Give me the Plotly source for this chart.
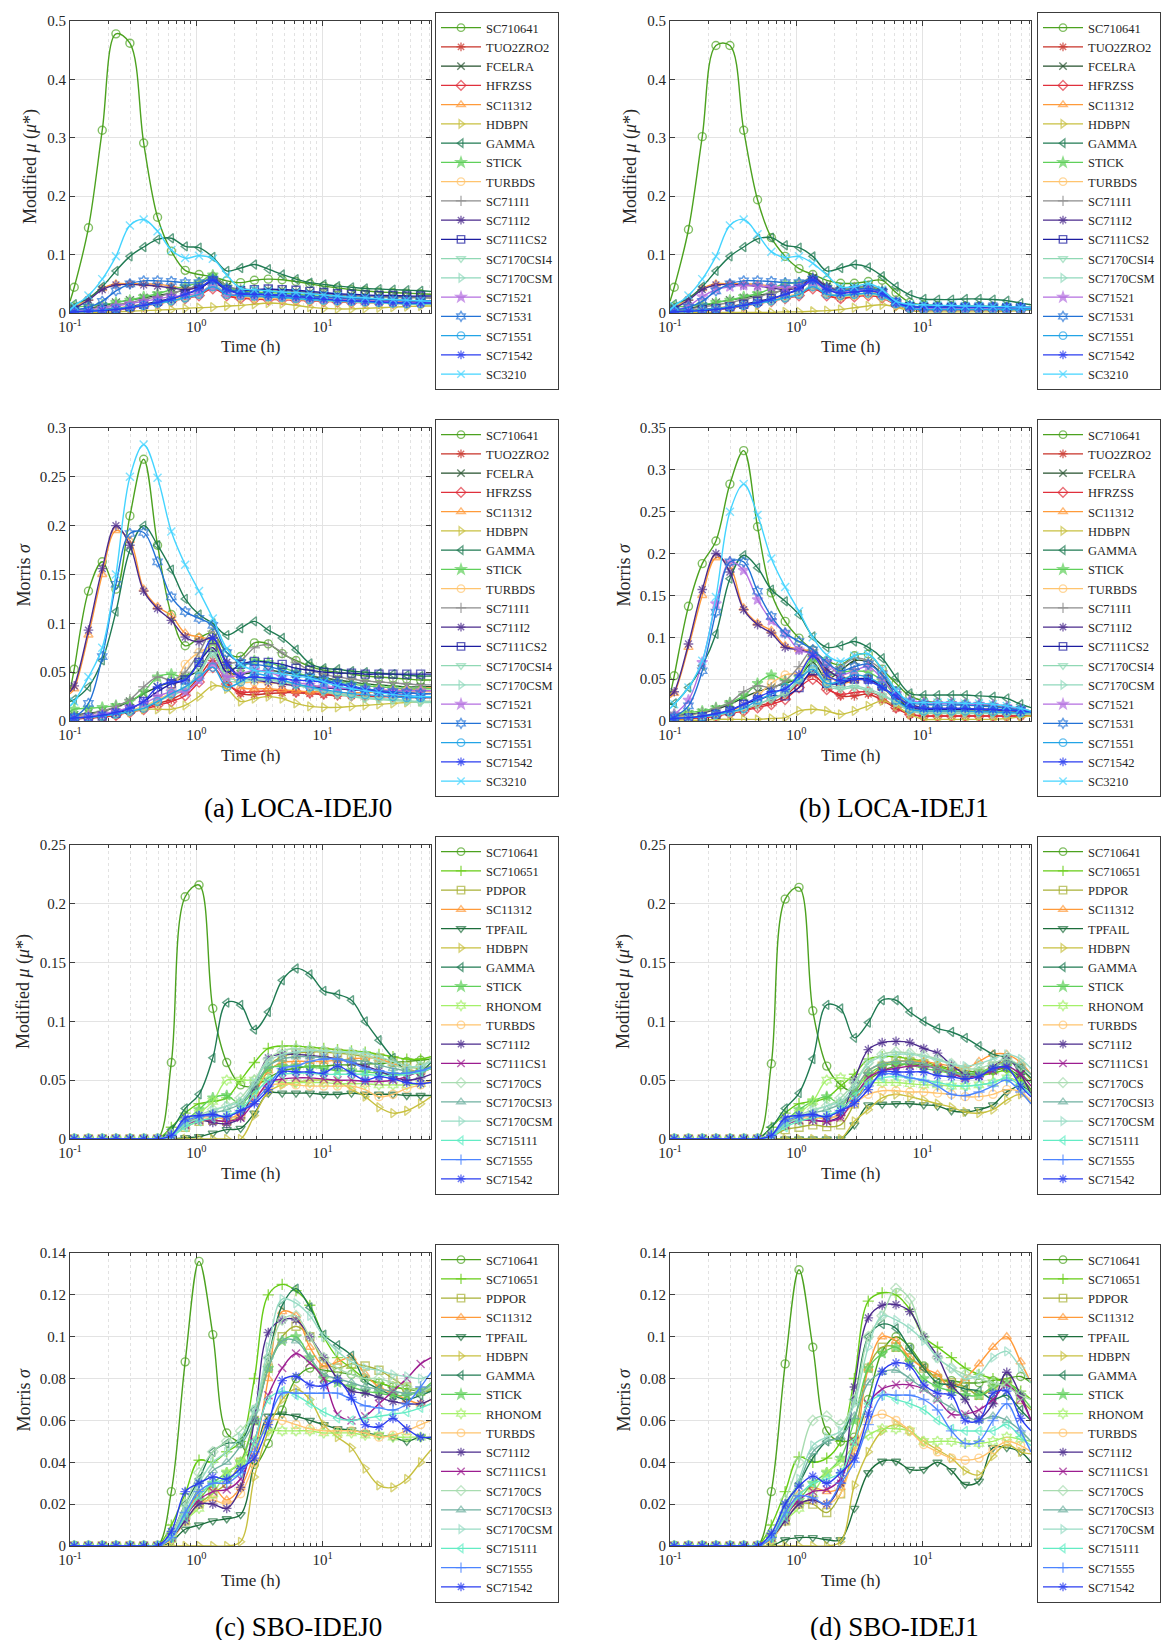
import math
import plotly.graph_objects as go

# ---------------- data ----------------
T = [0.1, 0.108, 0.14, 0.18, 0.231, 0.298, 0.383,
     0.493, 0.634, 0.816, 1.05, 1.35, 1.74, 2.24,
     2.88, 3.71, 4.78, 6.15, 7.91, 10.2, 13.1,
     16.9, 21.7, 27.9, 36.0, 46.3, 59.6, 72]

LOCA_NAMES = ["SC710641", "TUO2ZRO2", "FCELRA", "HFRZSS", "SC11312", "HDBPN", "GAMMA",
              "STICK", "TURBDS", "SC711I1", "SC711I2", "SC7111CS2", "SC7170CSI4",
              "SC7170CSM", "SC71521", "SC71531", "SC71551", "SC71542", "SC3210"]

SBO_NAMES = ["SC710641", "SC710651", "PDPOR", "SC11312", "TPFAIL", "HDBPN", "GAMMA",
             "STICK", "RHONOM", "TURBDS", "SC711I2", "SC7111CS1", "SC7170CS",
             "SC7170CSI3", "SC7170CSM", "SC715111", "SC71555", "SC71542"]

LOCA_IDEJ0_MU = [
    [.020, .044, .146, .313, .478, .462, .291, .164, .106, .073, .066, .062, .055, .052, .056, .058, .057, .054, .050, .046, .043, .040, .038, .036, .035, .034, .033, .032],
    [.001, .002, .003, .004, .006, .010, .014, .018, .022, .026, .032, .045, .032, .027, .026, .026, .025, .024, .023, .022, .021, .020, .020, .019, .019, .018, .018, .018],
    [.003, .005, .008, .012, .018, .022, .026, .030, .034, .040, .048, .060, .045, .040, .040, .040, .039, .037, .035, .033, .031, .030, .029, .028, .028, .027, .027, .026],
    [.001, .002, .003, .004, .005, .008, .012, .016, .020, .025, .030, .042, .030, .025, .024, .023, .023, .022, .021, .020, .019, .018, .018, .017, .017, .016, .016, .016],
    [.005, .010, .025, .042, .050, .050, .050, .049, .046, .042, .046, .052, .040, .033, .028, .027, .027, .026, .025, .024, .023, .022, .021, .020, .019, .018, .018, .017],
    [.000, .001, .001, .001, .002, .003, .004, .005, .006, .008, .009, .010, .012, .013, .015, .017, .016, .013, .010, .008, .007, .007, .008, .009, .010, .011, .012, .012],
    [.012, .015, .025, .045, .072, .097, .113, .126, .128, .114, .112, .096, .072, .077, .083, .075, .066, .058, .052, .049, .046, .044, .042, .041, .040, .039, .038, .037],
    [.010, .010, .012, .014, .018, .022, .028, .033, .040, .046, .052, .065, .045, .038, .036, .035, .034, .032, .030, .028, .026, .025, .024, .023, .022, .021, .020, .020],
    [.002, .003, .004, .006, .008, .012, .015, .020, .024, .028, .034, .045, .033, .028, .026, .025, .024, .023, .022, .021, .020, .019, .018, .017, .016, .016, .015, .015],
    [.003, .005, .007, .010, .014, .018, .023, .028, .034, .040, .048, .062, .046, .041, .040, .040, .039, .037, .035, .033, .031, .030, .029, .028, .027, .026, .026, .026],
    [.005, .008, .022, .040, .048, .049, .048, .046, .043, .040, .044, .052, .040, .034, .032, .031, .030, .029, .028, .027, .026, .025, .024, .023, .022, .021, .021, .021],
    [.002, .003, .004, .006, .008, .011, .015, .020, .025, .032, .040, .055, .040, .038, .040, .041, .040, .039, .037, .035, .033, .032, .031, .030, .030, .029, .029, .029],
    [.001, .002, .003, .004, .006, .009, .012, .016, .020, .025, .032, .046, .034, .029, .028, .027, .026, .024, .022, .021, .020, .019, .018, .017, .016, .015, .015, .015],
    [.001, .002, .003, .005, .007, .010, .013, .017, .021, .026, .033, .048, .035, .030, .029, .028, .027, .025, .023, .022, .021, .020, .019, .018, .017, .016, .016, .016],
    [.002, .003, .005, .008, .012, .016, .020, .024, .028, .030, .035, .045, .034, .030, .029, .028, .027, .026, .025, .024, .023, .022, .021, .020, .019, .018, .018, .018],
    [.002, .004, .010, .020, .038, .050, .055, .055, .054, .052, .052, .058, .042, .036, .034, .032, .031, .030, .028, .027, .026, .025, .024, .023, .022, .021, .021, .021],
    [.001, .002, .003, .005, .007, .010, .013, .017, .021, .026, .032, .045, .032, .030, .029, .028, .027, .025, .023, .022, .021, .020, .019, .018, .017, .016, .016, .016],
    [.001, .002, .003, .004, .006, .009, .013, .018, .024, .032, .042, .056, .040, .033, .032, .031, .030, .028, .026, .024, .022, .021, .020, .019, .018, .017, .017, .017],
    [.005, .012, .030, .058, .097, .150, .160, .140, .108, .094, .098, .093, .065, .042, .040, .038, .036, .035, .033, .031, .029, .027, .026, .024, .023, .022, .021, .020],
]

LOCA_IDEJ0_SIGMA = [
    [.030, .053, .133, .163, .135, .210, .268, .180, .109, .077, .085, .090, .070, .066, .080, .079, .069, .062, .056, .052, .050, .048, .046, .045, .044, .043, .042, .042],
    [.002, .002, .003, .004, .006, .010, .013, .018, .022, .030, .045, .062, .040, .028, .027, .028, .029, .029, .028, .027, .026, .026, .025, .025, .025, .024, .024, .024],
    [.005, .006, .008, .010, .014, .020, .028, .035, .040, .045, .052, .072, .050, .048, .050, .052, .050, .048, .046, .044, .042, .040, .038, .037, .036, .035, .035, .035],
    [.002, .002, .003, .004, .006, .009, .012, .016, .020, .026, .040, .055, .038, .030, .030, .031, .031, .030, .029, .028, .027, .026, .026, .025, .025, .025, .024, .024],
    [.028, .033, .088, .150, .195, .185, .135, .117, .108, .090, .086, .082, .058, .035, .033, .033, .032, .031, .030, .030, .029, .029, .029, .030, .031, .032, .033, .034],
    [.002, .003, .004, .005, .007, .009, .012, .012, .012, .016, .025, .036, .033, .020, .023, .025, .023, .018, .015, .014, .014, .015, .016, .017, .018, .019, .020, .020],
    [.020, .022, .035, .062, .112, .175, .200, .180, .155, .125, .109, .100, .088, .095, .102, .093, .085, .073, .059, .054, .053, .051, .050, .049, .048, .047, .046, .046],
    [.010, .012, .013, .014, .016, .020, .030, .045, .048, .045, .060, .080, .055, .055, .062, .060, .055, .050, .045, .042, .040, .038, .036, .035, .034, .033, .033, .033],
    [.003, .004, .005, .006, .008, .011, .015, .022, .030, .058, .070, .075, .050, .040, .040, .039, .038, .037, .036, .035, .034, .033, .032, .032, .031, .031, .030, .030],
    [.004, .005, .007, .010, .015, .022, .035, .045, .042, .050, .070, .092, .060, .062, .075, .078, .070, .060, .052, .048, .045, .043, .041, .040, .039, .038, .037, .037],
    [.030, .036, .093, .156, .200, .180, .133, .115, .103, .086, .081, .085, .060, .045, .042, .040, .038, .036, .035, .034, .033, .032, .031, .030, .029, .029, .028, .028],
    [.002, .003, .004, .005, .008, .012, .020, .030, .038, .042, .060, .075, .050, .058, .061, .060, .058, .054, .052, .050, .049, .049, .048, .048, .048, .048, .048, .048],
    [.002, .003, .004, .005, .007, .010, .014, .020, .026, .032, .048, .068, .042, .040, .042, .042, .040, .037, .033, .030, .027, .025, .023, .022, .021, .020, .019, .019],
    [.002, .003, .004, .005, .007, .010, .014, .020, .027, .034, .050, .070, .045, .042, .044, .043, .041, .038, .034, .031, .028, .026, .024, .023, .022, .021, .020, .020],
    [.002, .003, .005, .007, .010, .014, .018, .025, .030, .030, .042, .058, .045, .048, .052, .050, .045, .040, .037, .035, .034, .033, .032, .032, .031, .031, .031, .031],
    [.003, .004, .018, .066, .140, .192, .193, .163, .127, .112, .105, .098, .070, .060, .058, .056, .052, .048, .045, .042, .039, .036, .033, .031, .030, .029, .028, .028],
    [.002, .003, .004, .005, .007, .010, .013, .020, .028, .035, .045, .055, .035, .040, .048, .046, .042, .038, .035, .032, .030, .028, .027, .026, .025, .024, .024, .024],
    [.002, .003, .004, .006, .009, .013, .020, .035, .040, .042, .060, .085, .058, .045, .045, .044, .043, .042, .041, .040, .038, .035, .032, .030, .028, .026, .025, .025],
    [.015, .020, .045, .075, .150, .250, .283, .249, .194, .160, .133, .105, .074, .058, .052, .050, .048, .046, .044, .040, .036, .033, .031, .029, .027, .026, .025, .025],
]

LOCA_IDEJ1_MU = [
    [.020, .044, .143, .302, .458, .458, .313, .194, .129, .097, .076, .066, .056, .051, .051, .054, .056, .035, .018, .014, .013, .012, .012, .012, .011, .011, .010, .010],
    [.001, .002, .003, .004, .006, .010, .014, .018, .022, .026, .032, .045, .032, .026, .030, .032, .028, .015, .008, .006, .006, .006, .006, .006, .006, .006, .006, .006],
    [.003, .005, .008, .012, .018, .022, .026, .030, .034, .040, .048, .060, .045, .040, .042, .045, .038, .020, .012, .010, .010, .010, .010, .009, .009, .009, .008, .008],
    [.001, .002, .003, .004, .005, .008, .012, .016, .020, .025, .030, .042, .030, .025, .028, .030, .026, .014, .007, .005, .005, .005, .005, .005, .005, .005, .005, .005],
    [.005, .010, .025, .042, .050, .050, .050, .049, .046, .042, .046, .052, .040, .035, .036, .038, .032, .018, .010, .008, .008, .008, .008, .008, .008, .008, .008, .008],
    [.000, .001, .001, .001, .001, .001, .001, .001, .001, .002, .002, .003, .004, .006, .009, .012, .014, .010, .004, .002, .002, .002, .002, .002, .002, .003, .004, .005],
    [.012, .015, .025, .045, .072, .097, .113, .127, .129, .116, .112, .097, .072, .077, .083, .078, .063, .045, .031, .024, .023, .023, .024, .024, .023, .021, .017, .014],
    [.010, .010, .012, .014, .018, .022, .028, .033, .042, .050, .052, .055, .045, .040, .042, .044, .038, .020, .012, .010, .010, .010, .010, .009, .009, .009, .008, .008],
    [.002, .003, .004, .006, .008, .012, .015, .020, .024, .028, .034, .045, .033, .028, .030, .032, .028, .015, .008, .006, .006, .006, .006, .006, .006, .006, .006, .006],
    [.003, .005, .007, .010, .014, .018, .023, .028, .034, .040, .048, .062, .046, .041, .044, .046, .040, .020, .012, .010, .010, .010, .010, .010, .009, .009, .009, .009],
    [.005, .008, .022, .040, .048, .049, .048, .046, .043, .040, .044, .060, .045, .038, .040, .042, .036, .018, .012, .010, .010, .010, .010, .010, .010, .009, .009, .009],
    [.002, .003, .004, .006, .008, .011, .015, .020, .025, .032, .040, .055, .040, .036, .038, .040, .035, .018, .011, .010, .010, .010, .010, .010, .010, .009, .009, .009],
    [.001, .002, .003, .004, .006, .009, .012, .016, .020, .025, .032, .046, .034, .029, .031, .033, .028, .015, .008, .006, .006, .006, .006, .006, .006, .006, .006, .006],
    [.001, .002, .003, .005, .007, .010, .013, .017, .021, .026, .033, .048, .035, .030, .032, .034, .029, .016, .009, .007, .007, .007, .007, .007, .007, .007, .007, .007],
    [.002, .004, .012, .028, .040, .045, .047, .046, .045, .044, .046, .052, .040, .036, .038, .040, .034, .018, .010, .008, .008, .008, .008, .008, .008, .008, .008, .008],
    [.002, .004, .010, .020, .038, .050, .055, .055, .054, .052, .052, .058, .042, .038, .040, .042, .036, .018, .012, .010, .010, .010, .010, .010, .010, .009, .009, .009],
    [.001, .002, .003, .005, .007, .010, .013, .017, .021, .026, .032, .045, .032, .030, .032, .034, .030, .016, .008, .006, .006, .006, .006, .006, .006, .006, .006, .006],
    [.001, .002, .003, .004, .006, .009, .013, .018, .024, .032, .042, .056, .040, .034, .036, .038, .033, .018, .011, .010, .010, .010, .010, .010, .010, .010, .010, .010],
    [.005, .012, .030, .058, .097, .150, .160, .135, .105, .095, .097, .085, .065, .045, .045, .050, .040, .020, .015, .014, .013, .013, .012, .012, .011, .011, .010, .010],
]

LOCA_IDEJ1_SIGMA = [
    [.030, .054, .137, .188, .215, .283, .323, .232, .153, .119, .099, .085, .072, .067, .078, .080, .062, .045, .030, .024, .022, .021, .020, .019, .018, .016, .014, .012],
    [.002, .002, .003, .004, .006, .010, .013, .018, .022, .030, .045, .055, .040, .030, .030, .032, .025, .015, .008, .006, .006, .006, .006, .006, .006, .006, .006, .006],
    [.005, .006, .008, .010, .014, .020, .028, .035, .040, .045, .052, .070, .050, .060, .072, .070, .055, .030, .015, .012, .012, .012, .012, .012, .011, .011, .010, .010],
    [.002, .002, .003, .004, .006, .009, .012, .016, .020, .026, .040, .050, .038, .032, .034, .035, .028, .016, .008, .006, .006, .006, .006, .006, .006, .006, .006, .006],
    [.028, .033, .088, .150, .195, .185, .135, .117, .108, .090, .086, .082, .058, .045, .048, .050, .040, .025, .012, .010, .010, .010, .010, .010, .010, .010, .009, .009],
    [.001, .001, .001, .001, .002, .002, .002, .002, .003, .004, .012, .014, .012, .008, .012, .018, .024, .018, .008, .002, .002, .002, .002, .002, .002, .003, .005, .006],
    [.020, .021, .040, .066, .104, .170, .198, .183, .157, .143, .127, .101, .088, .090, .095, .088, .075, .052, .033, .031, .031, .031, .031, .030, .029, .027, .020, .016],
    [.005, .008, .010, .012, .016, .022, .030, .045, .055, .048, .052, .075, .055, .058, .060, .058, .048, .030, .018, .015, .015, .014, .014, .013, .013, .012, .011, .010],
    [.003, .004, .005, .006, .008, .012, .018, .030, .045, .055, .058, .080, .052, .050, .055, .052, .042, .025, .014, .012, .012, .012, .012, .011, .011, .010, .010, .010],
    [.004, .005, .007, .010, .015, .022, .035, .042, .040, .048, .065, .085, .058, .065, .075, .072, .060, .035, .018, .014, .014, .014, .014, .013, .013, .012, .011, .010],
    [.030, .035, .092, .157, .200, .178, .133, .115, .105, .088, .085, .080, .062, .052, .050, .050, .040, .028, .020, .016, .015, .015, .015, .014, .014, .013, .012, .011],
    [.002, .003, .004, .005, .008, .012, .020, .025, .030, .030, .040, .060, .045, .045, .050, .050, .042, .025, .016, .014, .014, .014, .014, .014, .013, .013, .012, .011],
    [.002, .003, .004, .005, .007, .010, .014, .020, .026, .032, .048, .062, .042, .038, .040, .036, .030, .022, .012, .009, .009, .009, .009, .009, .009, .009, .008, .008],
    [.002, .003, .004, .005, .007, .010, .014, .020, .027, .034, .050, .065, .045, .040, .042, .038, .032, .022, .012, .010, .010, .010, .010, .010, .009, .009, .009, .008],
    [.005, .008, .025, .070, .140, .190, .180, .145, .120, .105, .085, .080, .070, .055, .060, .065, .050, .032, .025, .022, .021, .021, .020, .020, .019, .017, .014, .012],
    [.003, .005, .018, .060, .130, .190, .190, .155, .125, .105, .095, .085, .070, .060, .065, .068, .055, .035, .022, .020, .019, .019, .019, .018, .017, .015, .013, .011],
    [.002, .003, .004, .005, .008, .011, .015, .025, .032, .040, .050, .062, .045, .048, .055, .052, .042, .025, .014, .012, .012, .012, .012, .011, .011, .010, .010, .010],
    [.002, .003, .004, .006, .009, .013, .020, .028, .035, .038, .055, .078, .055, .048, .050, .048, .040, .030, .018, .015, .015, .015, .015, .014, .014, .013, .012, .011],
    [.015, .020, .040, .072, .148, .250, .283, .246, .194, .160, .131, .100, .079, .071, .078, .080, .062, .037, .023, .022, .022, .022, .021, .021, .020, .018, .015, .012],
]

SBO_IDEJ0_MU = [
    [0, 0, 0, 0, 0, 0, 0, .000, .065, .206, .216, .111, .065, .046, .045, .052, .058, .060, .062, .062, .063, .063, .064, .064, .065, .066, .067, .068],
    [0, 0, 0, 0, 0, 0, 0, .000, .010, .022, .030, .032, .035, .050, .065, .077, .079, .079, .078, .077, .076, .075, .074, .072, .070, .068, .068, .070],
    [0, 0, 0, 0, 0, 0, 0, .000, .003, .010, .015, .016, .015, .020, .040, .062, .070, .073, .074, .074, .073, .072, .070, .069, .066, .062, .060, .062],
    [0, 0, 0, 0, 0, 0, 0, .000, .004, .014, .018, .019, .017, .022, .038, .058, .065, .066, .066, .066, .067, .068, .069, .068, .064, .060, .057, .060],
    [0, 0, 0, 0, 0, 0, 0, .000, .000, .001, .002, .005, .008, .009, .022, .039, .039, .039, .039, .038, .038, .039, .038, .038, .038, .037, .037, .037],
    [0, 0, 0, 0, 0, 0, 0, .000, .000, .000, .000, .000, .000, .000, .020, .040, .046, .048, .050, .050, .049, .042, .036, .027, .022, .024, .030, .036],
    [0, 0, 0, 0, 0, 0, 0, .000, .008, .026, .038, .069, .116, .114, .093, .108, .135, .145, .140, .126, .123, .118, .100, .084, .069, .058, .058, .065],
    [0, 0, 0, 0, 0, 0, 0, .000, .004, .015, .025, .035, .037, .030, .042, .060, .062, .062, .061, .060, .058, .058, .057, .056, .055, .055, .057, .060],
    [0, 0, 0, 0, 0, 0, 0, .000, .003, .015, .022, .032, .050, .050, .050, .050, .048, .048, .048, .048, .047, .047, .047, .046, .046, .046, .047, .048],
    [0, 0, 0, 0, 0, 0, 0, .000, .002, .012, .016, .018, .018, .020, .035, .045, .047, .046, .045, .045, .045, .045, .042, .036, .038, .043, .046, .050],
    [0, 0, 0, 0, 0, 0, 0, .000, .004, .012, .016, .014, .013, .018, .045, .069, .072, .072, .071, .070, .068, .065, .062, .058, .053, .050, .052, .055],
    [0, 0, 0, 0, 0, 0, 0, .000, .003, .012, .016, .016, .015, .018, .032, .048, .051, .052, .052, .051, .050, .050, .049, .049, .050, .053, .058, .060],
    [0, 0, 0, 0, 0, 0, 0, .000, .004, .015, .020, .025, .028, .035, .050, .068, .075, .077, .076, .075, .074, .073, .071, .067, .063, .060, .062, .068],
    [0, 0, 0, 0, 0, 0, 0, .000, .003, .013, .018, .022, .025, .030, .045, .062, .068, .070, .070, .069, .068, .067, .066, .063, .060, .058, .058, .062],
    [0, 0, 0, 0, 0, 0, 0, .000, .003, .012, .018, .024, .028, .032, .048, .066, .072, .074, .075, .075, .074, .074, .073, .070, .066, .062, .062, .066],
    [0, 0, 0, 0, 0, 0, 0, .000, .002, .010, .015, .018, .020, .025, .038, .050, .055, .056, .056, .055, .055, .055, .055, .054, .054, .055, .057, .060],
    [0, 0, 0, 0, 0, 0, 0, .000, .003, .015, .019, .020, .019, .024, .032, .045, .060, .062, .066, .068, .068, .065, .060, .058, .056, .056, .058, .061],
    [0, 0, 0, 0, 0, 0, 0, .000, .003, .018, .020, .021, .019, .024, .030, .042, .057, .057, .057, .056, .062, .056, .050, .053, .051, .048, .047, .048],
]

SBO_IDEJ0_SIGMA = [
    [0, 0, 0, 0, 0, 0, 0, .000, .026, .088, .136, .101, .054, .049, .039, .049, .065, .080, .085, .084, .083, .082, .080, .078, .076, .075, .074, .074],
    [0, 0, 0, 0, 0, 0, 0, .000, .010, .025, .041, .040, .045, .050, .080, .120, .125, .122, .115, .100, .090, .085, .080, .078, .076, .075, .075, .075],
    [0, 0, 0, 0, 0, 0, 0, .000, .004, .012, .020, .025, .030, .040, .060, .085, .100, .105, .100, .088, .085, .087, .086, .084, .080, .076, .074, .074],
    [0, 0, 0, 0, 0, 0, 0, .000, .005, .015, .025, .028, .022, .028, .045, .080, .112, .110, .095, .086, .088, .090, .082, .076, .073, .070, .068, .070],
    [0, 0, 0, 0, 0, 0, 0, .000, .002, .008, .010, .012, .013, .015, .040, .062, .063, .062, .060, .058, .056, .0555, .054, .053, .052, .050, .052, .051],
    [0, 0, 0, 0, 0, 0, 0, .000, .000, .000, .000, .000, .000, .002, .033, .055, .070, .075, .070, .058, .052, .047, .037, .029, .028, .032, .040, .046],
    [0, 0, 0, 0, 0, 0, 0, .000, .006, .020, .032, .045, .049, .050, .065, .090, .115, .123, .114, .101, .096, .091, .079, .075, .072, .070, .072, .074],
    [0, 0, 0, 0, 0, 0, 0, .000, .004, .015, .022, .030, .035, .040, .060, .085, .098, .100, .090, .080, .078, .076, .074, .073, .072, .072, .074, .078],
    [0, 0, 0, 0, 0, 0, 0, .000, .003, .012, .018, .025, .035, .040, .050, .055, .055, .055, .055, .054, .054, .054, .053, .053, .052, .052, .052, .052],
    [0, 0, 0, 0, 0, 0, 0, .000, .003, .012, .020, .022, .020, .025, .040, .060, .060, .058, .056, .055, .055, .055, .054, .052, .053, .055, .058, .060],
    [0, 0, 0, 0, 0, 0, 0, .000, .004, .012, .020, .020, .018, .028, .060, .102, .108, .108, .100, .090, .080, .074, .073, .071, .069, .068, .068, .070],
    [0, 0, 0, 0, 0, 0, 0, .000, .004, .014, .022, .026, .027, .032, .050, .072, .085, .092, .0875, .080, .063, .060, .062, .068, .074, .080, .087, .090],
    [0, 0, 0, 0, 0, 0, 0, .000, .006, .020, .035, .045, .050, .055, .065, .090, .108, .110, .100, .090, .085, .082, .080, .080, .078, .076, .074, .076],
    [0, 0, 0, 0, 0, 0, 0, .000, .004, .015, .028, .036, .040, .048, .060, .085, .098, .098, .090, .082, .080, .078, .076, .075, .074, .073, .074, .077],
    [0, 0, 0, 0, 0, 0, 0, .000, .005, .018, .030, .040, .045, .052, .065, .095, .118, .116, .110, .100, .093, .088, .085, .084, .082, .081, .080, .082],
    [0, 0, 0, 0, 0, 0, 0, .000, .004, .014, .024, .030, .032, .035, .050, .070, .074, .072, .068, .064, .061, .060, .061, .062, .063, .064, .066, .068],
    [0, 0, 0, 0, 0, 0, 0, .000, .004, .016, .026, .030, .030, .035, .045, .060, .073, .073, .073, .073, .073, .070, .067, .066, .065, .068, .076, .083],
    [0, 0, 0, 0, 0, 0, 0, .000, .007, .026, .030, .033, .032, .037, .042, .058, .079, .081, .077, .0765, .079, .071, .058, .057, .061, .056, .052, .052],
]

SBO_IDEJ1_MU = [
    [0, 0, 0, 0, 0, 0, 0, .000, .064, .204, .214, .109, .062, .046, .040, .050, .058, .062, .064, .063, .062, .060, .058, .057, .058, .060, .052, .042],
    [0, 0, 0, 0, 0, 0, 0, .000, .010, .022, .030, .032, .035, .045, .055, .068, .070, .070, .068, .066, .062, .058, .055, .054, .056, .058, .050, .040],
    [0, 0, 0, 0, 0, 0, 0, .000, .002, .008, .010, .012, .0105, .012, .030, .050, .062, .066, .066, .064, .060, .056, .054, .056, .062, .066, .060, .050],
    [0, 0, 0, 0, 0, 0, 0, .000, .004, .014, .018, .019, .017, .022, .040, .058, .064, .066, .066, .066, .064, .062, .060, .066, .072, .072, .065, .055],
    [0, 0, 0, 0, 0, 0, 0, .000, .000, .000, .000, .000, .000, .000, .012, .029, .0295, .030, .030, .029, .028, .024, .023, .025, .029, .040, .045, .040],
    [0, 0, 0, 0, 0, 0, 0, .000, .000, .000, .000, .000, .000, .000, .015, .025, .035, .038, .036, .033, .030, .027, .023, .022, .025, .033, .038, .030],
    [0, 0, 0, 0, 0, 0, 0, .000, .010, .026, .039, .068, .114, .111, .086, .099, .118, .118, .108, .100, .094, .091, .086, .079, .072, .069, .060, .052],
    [0, 0, 0, 0, 0, 0, 0, .000, .004, .015, .025, .032, .036, .030, .040, .055, .062, .064, .063, .060, .058, .056, .055, .057, .060, .062, .055, .048],
    [0, 0, 0, 0, 0, 0, 0, .000, .003, .015, .022, .032, .050, .052, .050, .048, .048, .048, .047, .046, .046, .045, .045, .046, .048, .052, .048, .040],
    [0, 0, 0, 0, 0, 0, 0, .000, .002, .012, .016, .018, .018, .020, .030, .038, .041, .041, .040, .040, .039, .038, .036, .036, .038, .042, .040, .032],
    [0, 0, 0, 0, 0, 0, 0, .000, .004, .012, .016, .016, .015, .020, .050, .076, .082, .083, .082, .077, .073, .063, .055, .053, .061, .069, .055, .038],
    [0, 0, 0, 0, 0, 0, 0, .000, .003, .012, .016, .016, .015, .018, .035, .052, .058, .060, .062, .062, .060, .056, .052, .054, .058, .062, .055, .045],
    [0, 0, 0, 0, 0, 0, 0, .000, .004, .015, .020, .025, .028, .035, .048, .065, .072, .074, .073, .071, .068, .064, .060, .060, .064, .068, .062, .055],
    [0, 0, 0, 0, 0, 0, 0, .000, .003, .013, .018, .022, .025, .030, .042, .058, .064, .066, .066, .064, .060, .057, .054, .055, .060, .066, .062, .055],
    [0, 0, 0, 0, 0, 0, 0, .000, .003, .012, .018, .024, .028, .032, .046, .064, .070, .072, .072, .070, .067, .064, .062, .064, .068, .072, .068, .060],
    [0, 0, 0, 0, 0, 0, 0, .000, .002, .010, .015, .018, .020, .025, .036, .048, .052, .053, .052, .050, .048, .046, .045, .046, .048, .052, .045, .038],
    [0, 0, 0, 0, 0, 0, 0, .000, .003, .015, .019, .020, .019, .024, .032, .045, .055, .055, .052, .050, .045, .038, .037, .040, .045, .050, .040, .030],
    [0, 0, 0, 0, 0, 0, 0, .000, .003, .018, .020, .021, .019, .024, .030, .042, .057, .057, .057, .057, .054, .053, .051, .053, .060, .061, .045, .036],
]

SBO_IDEJ1_SIGMA = [
    [0, 0, 0, 0, 0, 0, 0, .000, .026, .087, .132, .095, .055, .050, .052, .070, .093, .100, .095, .086, .080, .079, .078, .078, .079, .080, .081, .078],
    [0, 0, 0, 0, 0, 0, 0, .000, .010, .026, .0425, .040, .042, .050, .080, .117, .121, .120, .113, .100, .095, .090, .085, .082, .080, .078, .074, .070],
    [0, 0, 0, 0, 0, 0, 0, .000, .004, .012, .020, .020, .016, .025, .050, .085, .095, .095, .090, .085, .080, .078, .076, .072, .075, .078, .070, .065],
    [0, 0, 0, 0, 0, 0, 0, .000, .005, .015, .025, .028, .026, .028, .045, .085, .100, .098, .090, .085, .082, .075, .080, .087, .095, .100, .088, .078],
    [0, 0, 0, 0, 0, 0, 0, .000, .000, .003, .004, .004, .003, .003, .018, .035, .0405, .0405, .0366, .0366, .040, .036, .0294, .031, .047, .047, .045, .040],
    [0, 0, 0, 0, 0, 0, 0, .000, .000, .000, .000, .000, .000, .002, .029, .045, .055, .058, .055, .050, .046, .042, .036, .034, .043, .0485, .045, .044],
    [0, 0, 0, 0, 0, 0, 0, .000, .004, .020, .030, .042, .050, .052, .070, .100, .106, .104, .094, .085, .078, .077, .075, .074, .070, .072, .065, .060],
    [0, 0, 0, 0, 0, 0, 0, .000, .004, .015, .022, .030, .035, .042, .060, .085, .092, .095, .088, .080, .076, .074, .072, .072, .076, .078, .072, .066],
    [0, 0, 0, 0, 0, 0, 0, .000, .003, .012, .018, .025, .035, .040, .048, .053, .056, .056, .055, .050, .050, .050, .049, .049, .050, .052, .051, .050],
    [0, 0, 0, 0, 0, 0, 0, .000, .003, .012, .020, .022, .020, .025, .045, .060, .063, .060, .055, .0485, .045, .042, .041, .042, .046, .050, .048, .045],
    [0, 0, 0, 0, 0, 0, 0, .000, .004, .012, .020, .022, .020, .030, .076, .109, .115, .1153, .112, .100, .0907, .077, .070, .061, .068, .083, .072, .060],
    [0, 0, 0, 0, 0, 0, 0, .000, .004, .014, .022, .026, .027, .032, .050, .068, .075, .077, .077, .075, .070, .063, .063, .065, .070, .077, .070, .060],
    [0, 0, 0, 0, 0, 0, 0, .000, .006, .022, .040, .060, .062, .058, .070, .100, .110, .123, .118, .100, .090, .085, .082, .080, .078, .076, .072, .070],
    [0, 0, 0, 0, 0, 0, 0, .000, .004, .016, .030, .045, .050, .052, .062, .078, .083, .084, .080, .075, .070, .066, .062, .060, .062, .060, .055, .050],
    [0, 0, 0, 0, 0, 0, 0, .000, .005, .018, .032, .048, .052, .055, .068, .095, .110, .108, .104, .098, .090, .085, .080, .082, .090, .093, .085, .078],
    [0, 0, 0, 0, 0, 0, 0, .000, .004, .014, .024, .030, .032, .035, .050, .068, .072, .070, .068, .065, .060, .056, .055, .055, .055, .058, .052, .048],
    [0, 0, 0, 0, 0, 0, 0, .000, .004, .016, .024, .023, .020, .030, .040, .058, .072, .072, .072, .070, .065, .055, .049, .050, .060, .068, .055, .045],
    [0, 0, 0, 0, 0, 0, 0, .000, .006, .020, .0286, .0334, .030, .035, .042, .063, .0835, .0875, .086, .077, .073, .072, .060, .060, .073, .074, .061, .055],
]

CAPTIONS = ["(a) LOCA-IDEJ0", "(b) LOCA-IDEJ1", "(c) SBO-IDEJ0", "(d) SBO-IDEJ1"]
X_TICK_VALS = [0.1, 1, 10]
X_TICK_TEXT = ["10<sup>-1</sup>", "10<sup>0</sup>", "10<sup>1</sup>"]
X_MINOR_VALS = [0.2, 0.3, 0.4, 0.5, 0.6, 0.7, 0.8, 0.9, 2, 3, 4, 5, 6, 7, 8, 9,
                20, 30, 40, 50, 60, 70]
MU_TITLE = "Modified <i>μ</i> (<i>μ</i>*)"
SIGMA_TITLE = "Morris <i>σ</i>"
X_TITLE = "Time (h)"

# ---------------- styles ----------------
LOCA_STYLE = {
    "SC710641": ("#4ca21f", "circle-open"),
    "TUO2ZRO2": ("#c83228", "asterisk-open"),
    "FCELRA": ("#24502c", "x-thin-open"),
    "HFRZSS": ("#e0303c", "diamond-open"),
    "SC11312": ("#ff9a3a", "triangle-up-open"),
    "HDBPN": ("#c8c040", "triangle-right-open"),
    "GAMMA": ("#1f7a52", "triangle-left-open"),
    "STICK": ("#5fd05a", "star"),
    "TURBDS": ("#ffc46e", "circle-open"),
    "SC711I1": ("#8c8c8c", "cross-thin-open"),
    "SC711I2": ("#4a2a8c", "asterisk-open"),
    "SC7111CS2": ("#1c1ca0", "square-open"),
    "SC7170CSI4": ("#8fd8b4", "triangle-down-open"),
    "SC7170CSM": ("#90d8bc", "triangle-right-open"),
    "SC71521": ("#b46ee0", "star"),
    "SC71531": ("#2272d6", "hexagram-open"),
    "SC71551": ("#22a4e6", "circle-open"),
    "SC71542": ("#2a3cf0", "asterisk-open"),
    "SC3210": ("#44d4ff", "x-thin-open"),
}
SBO_STYLE = {
    "SC710641": ("#4ca21f", "circle-open"),
    "SC710651": ("#66cc14", "cross-thin-open"),
    "PDPOR": ("#a8b036", "square-open"),
    "SC11312": ("#ff9a3a", "triangle-up-open"),
    "TPFAIL": ("#1c6e3c", "triangle-down-open"),
    "HDBPN": ("#c8c040", "triangle-right-open"),
    "GAMMA": ("#1f7a52", "triangle-left-open"),
    "STICK": ("#5fd05a", "star"),
    "RHONOM": ("#a4f068", "hexagram-open"),
    "TURBDS": ("#ffc46e", "circle-open"),
    "SC711I2": ("#4a2a8c", "asterisk-open"),
    "SC7111CS1": ("#9c1c90", "x-thin-open"),
    "SC7170CS": ("#a8dcb0", "diamond-open"),
    "SC7170CSI3": ("#6fb0a0", "triangle-up-open"),
    "SC7170CSM": ("#98dcc4", "triangle-right-open"),
    "SC715111": ("#62ecc4", "triangle-left-open"),
    "SC71555": ("#4c84ff", "cross-thin-open"),
    "SC71542": ("#2a3cf0", "asterisk-open"),
}

FONT = "Liberation Serif"
W, H = 1172, 1640
COL_X = [(62, 423), (662, 1023)]
ROW_Y = [(13, 305), (420, 713), (837, 1131), (1245, 1538)]
LEG_X = [427, 1029]
LEG_DY = -9
CAP_X = [290, 886]
CAP_Y = [800, 1619]


def fx(px):
    return px / W


def fy(py):
    return 1 - py / H


PANELS = [
    (0, 0, LOCA_IDEJ0_MU, LOCA_NAMES, LOCA_STYLE, 0.5, 0.1, MU_TITLE, 39),
    (0, 1, LOCA_IDEJ1_MU, LOCA_NAMES, LOCA_STYLE, 0.5, 0.1, MU_TITLE, 39),
    (1, 0, LOCA_IDEJ0_SIGMA, LOCA_NAMES, LOCA_STYLE, 0.3, 0.05, SIGMA_TITLE, 47),
    (1, 1, LOCA_IDEJ1_SIGMA, LOCA_NAMES, LOCA_STYLE, 0.35, 0.05, SIGMA_TITLE, 47),
    (2, 0, SBO_IDEJ0_MU, SBO_NAMES, SBO_STYLE, 0.25, 0.05, MU_TITLE, 47),
    (2, 1, SBO_IDEJ1_MU, SBO_NAMES, SBO_STYLE, 0.25, 0.05, MU_TITLE, 47),
    (3, 0, SBO_IDEJ0_SIGMA, SBO_NAMES, SBO_STYLE, 0.14, 0.02, SIGMA_TITLE, 47),
    (3, 1, SBO_IDEJ1_SIGMA, SBO_NAMES, SBO_STYLE, 0.14, 0.02, SIGMA_TITLE, 47),
]

fig = go.Figure()
layout = dict(
    width=W, height=H, margin=dict(l=0, r=0, t=0, b=0),
    paper_bgcolor="white", plot_bgcolor="white",
    font=dict(family=FONT, size=15, color="#262626"),
    showlegend=True,
)
annotations = []
AX_LINE = "#3c3c3c"
GRID = "#e3e3e3"

for i, (r, c, data, names, style, ymax, dtick, ytitle, toff) in enumerate(PANELS, start=1):
    sfx = "" if i == 1 else str(i)
    xref, yref = "x" + sfx, "y" + sfx
    leg = "legend" + sfx
    x0, x1 = COL_X[c]
    y0, y1 = ROW_Y[r]
    for name, vals in zip(names, data):
        if len(vals) != len(T):
            raise ValueError(f"panel {i} {name} has {len(vals)} values")
        color, sym = style[name]
        sizes = [0] + [8] * (len(T) - 2) + [0]
        fig.add_trace(go.Scatter(
            x=T, y=vals, mode="lines+markers", name=name,
            xaxis=xref, yaxis=yref, legend=leg,
            line=dict(color=color, width=1.4, shape="spline", smoothing=1.0),
            marker=dict(symbol=sym, size=sizes, color=color,
                        line=dict(color=color, width=1.4)),
            hoverinfo="skip",
        ))
    layout["xaxis" + sfx] = dict(
        type="log", range=[-1, math.log10(72)],
        domain=[fx(x0), fx(x1)], anchor=yref,
        tickvals=X_TICK_VALS, ticktext=X_TICK_TEXT,
        ticks="inside", ticklen=5, tickcolor=AX_LINE, mirror="allticks",
        showline=True, linecolor=AX_LINE, linewidth=1,
        showgrid=True, gridcolor=GRID, gridwidth=1,
        minor=dict(tickvals=X_MINOR_VALS, ticks="inside", ticklen=3,
                   tickcolor=AX_LINE, showgrid=True, gridcolor="#e2e2e2",
                   griddash="dot", gridwidth=1),
        tickfont=dict(family=FONT, size=15, color="#262626"),
        zeroline=False, automargin=False, fixedrange=True,
    )
    layout["yaxis" + sfx] = dict(
        range=[0, ymax], dtick=dtick, tick0=0,
        domain=[fy(y1), fy(y0)], anchor=xref,
        ticks="inside", ticklen=5, tickcolor=AX_LINE, mirror="allticks",
        showline=True, linecolor=AX_LINE, linewidth=1,
        showgrid=True, gridcolor=GRID, gridwidth=1,
        tickfont=dict(family=FONT, size=15, color="#262626"),
        zeroline=False, automargin=False, fixedrange=True,
    )
    layout[leg] = dict(
        x=fx(LEG_X[c]), y=fy(y0 + LEG_DY), xref="paper", yref="paper",
        xanchor="left", yanchor="top",
        bgcolor="white", bordercolor=AX_LINE, borderwidth=1,
        font=dict(family=FONT, size=12.5, color="#262626"),
        itemwidth=40, tracegroupgap=0, itemsizing="trace",
    )
    annotations.append(dict(
        text=X_TITLE, xref="paper", yref="paper",
        x=fx((x0 + x1) / 2), y=fy(y1 + 34), xanchor="center", yanchor="middle",
        showarrow=False, font=dict(family=FONT, size=17, color="#262626"),
    ))
    annotations.append(dict(
        text=ytitle, xref="paper", yref="paper", textangle=-90,
        x=fx(x0 - toff), y=fy((y0 + y1) / 2), xanchor="center", yanchor="middle",
        showarrow=False, font=dict(family=FONT, size=18, color="#262626"),
    ))

for j, cap in enumerate(CAPTIONS):
    annotations.append(dict(
        text=cap, xref="paper", yref="paper",
        x=fx(CAP_X[j % 2]), y=fy(CAP_Y[j // 2]), xanchor="center", yanchor="middle",
        showarrow=False, font=dict(family=FONT, size=27, color="black"),
    ))

layout["annotations"] = annotations
fig.update_layout(**layout)
fig.write_html("out.html")
